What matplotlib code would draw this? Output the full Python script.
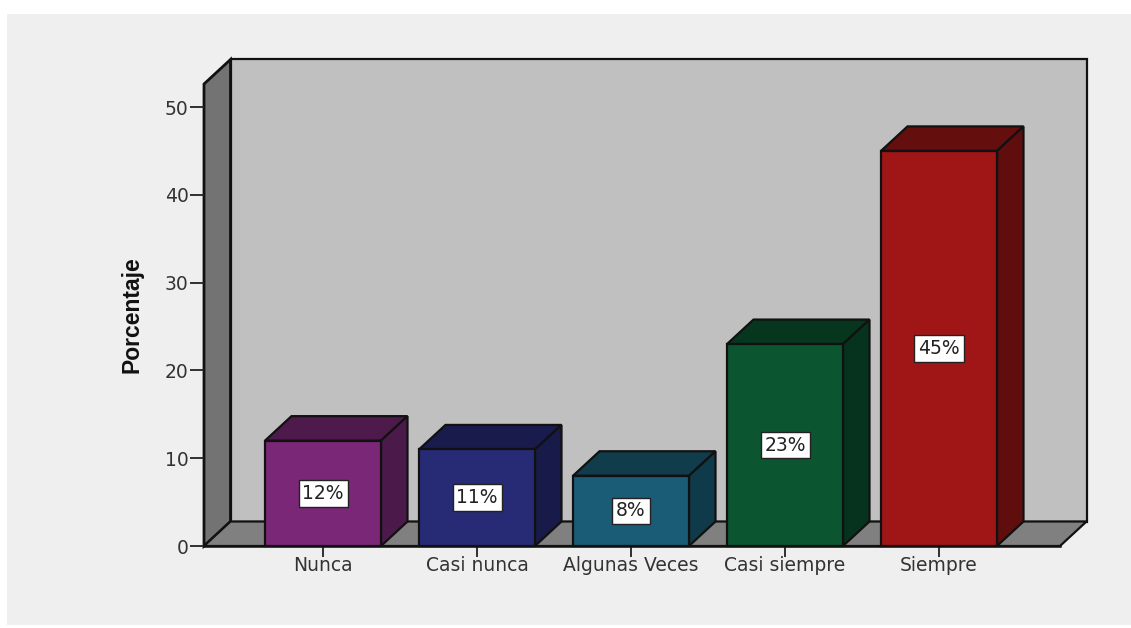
import matplotlib
matplotlib.use('Agg')
import matplotlib.pyplot as plt
from matplotlib.patches import Rectangle

categorias = ['Nunca', 'Casi nunca', 'Algunas Veces', 'Casi siempre', 'Siempre']
porcentajes = [12, 11, 8, 23, 45]
colores_frente = ['#7b2778', '#272a75', '#1a5b75', '#0b5530', '#a01516']
colores_tapa = ['#4e1a4c', '#191b4c', '#103c4c', '#07361f', '#650e0e']
colores_lado = ['#4c194b', '#181a49', '#0f3a4a', '#06331d', '#600d0d']
ticks_y = [0, 10, 20, 30, 40, 50]

W, H = 1131, 628
x0, x1 = 204, 1060      # front plane, pixels
y0, y50 = 546, 107      # value 0 and value 50, pixels
paso = 154
centro0 = 323

xmin = -(centro0 - x0) / paso
xmax = (x1 - centro0) / paso
ppu = (y0 - y50) / 50
ymax = (y0 - 84) / ppu
dx = 26.5 / paso        # depth of the 3d effect
dy = 24.5 / ppu
ancho = 116 / paso

plt.rcParams['font.family'] = ['DejaVu Sans']

fig = plt.figure(figsize=(W / 100, H / 100), dpi=100, facecolor='white')
fondo = Rectangle((7 / W, 1 - 625 / H), (W - 7) / W, 611 / H, transform=fig.transFigure,
                  facecolor='#efefef', edgecolor='none', zorder=-1)
fig.add_artist(fondo)

ax = fig.add_axes([x0 / W, 1 - y0 / H, (x1 - x0) / W, (y0 - 84) / H])
ax.patch.set_alpha(0)
ax.set_xlim(xmin, xmax)
ax.set_ylim(0, ymax)
for s in ax.spines.values():
    s.set_visible(False)


def cara(xs, ys, color, lw=1.6, z=1):
    ax.fill(xs, ys, facecolor=color, edgecolor='#111111', linewidth=lw, clip_on=False,
            joinstyle='miter', zorder=z)


# walls and floor
cara([xmin + dx, xmax + dx, xmax + dx, xmin + dx], [dy, dy, ymax + dy, ymax + dy], '#c0c0c0')
cara([xmin, xmin + dx, xmin + dx, xmin], [0, dy, ymax + dy, ymax], '#737373', lw=2)
cara([xmin, xmax, xmax + dx, xmin + dx], [0, 0, dy, dy], '#808080')

# bars
for i, v in enumerate(porcentajes):
    a, b = i - ancho / 2, i + ancho / 2
    cara([a, b, b + dx, a + dx], [v, v, v + dy, v + dy], colores_tapa[i], z=3)
    cara([b, b + dx, b + dx, b], [0, dy, v + dy, v], colores_lado[i], z=3)
    cara([a, b, b, a], [0, 0, v, v], colores_frente[i], z=4)
    ax.text(i, v / 2, f'{v}%', ha='center', va='center', fontsize=13.5, color='#222222', zorder=5,
            bbox=dict(boxstyle='square,pad=0.2', facecolor='white', edgecolor='#222222', linewidth=1))

ax.plot([xmin, xmax], [0, 0], color='#111111', lw=1.8, clip_on=False, zorder=6)

ax.set_xticks(range(len(categorias)))
ax.set_xticklabels(categorias)
ax.set_yticks(ticks_y)
ax.tick_params(axis='x', length=8, width=1.3, labelsize=13.5, labelcolor='#333333', color='#222222', pad=-1)
ax.tick_params(axis='y', length=10, width=1.3, labelsize=13.5, labelcolor='#333333', color='#222222', pad=1)

fig.text(132 / W, 1 - 315 / H, 'Porcentaje', rotation=90, ha='center', va='center', fontsize=16.5,
         fontweight='bold', color='#111111', family=['Liberation Sans Narrow', 'Liberation Sans'])

fig.savefig('out.png', dpi=100)
